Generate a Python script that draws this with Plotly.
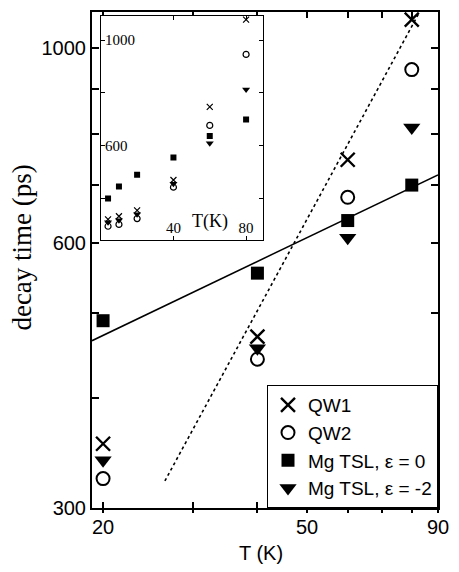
import numpy as np
import plotly.graph_objects as go

# Measured decay times (ps) versus temperature (K)
temps = [4, 10, 20, 40, 60, 80]
qw1 = [321, 333, 355, 470, 747, 1078]
qw2 = [295, 302, 324, 443, 677, 946]
tsl_eps0 = [400, 446, 490, 555, 637, 699]
tsl_eps2 = [310, 318, 340, 456, 609, 813]

# Power-law guide lines (straight on log-log axes)
fit_solid_t = [19.03, 90]
fit_solid_tau = [465, 718]
fit_dot_t = [26.4, 82.5]
fit_dot_tau = [322, 1095]

# Axis ticks
main_xticks = [20, 30, 40, 50, 60, 70, 80, 90]
main_xlabels = ["20", "", "", "50", "", "", "", "90"]
main_yticks = [300, 400, 500, 600, 700, 800, 900, 1000]
main_ylabels = ["300", "", "", "600", "", "", "", "1000"]
inset_xticks = [40, 80]
inset_yticks = [400, 600, 800, 1000]
inset_ylabels = ["", "600", "", "1000"]

SANS = "Liberation Sans, Arial, sans-serif"
SERIF = "Liberation Serif, Times New Roman, serif"

series = [
    ("QW1", qw1, dict(symbol="x-thin-open", size=14, line=dict(width=2.4, color="black"), color="black")),
    ("QW2", qw2, dict(symbol="circle-open", size=13, line=dict(width=2, color="black"), color="black")),
    ("Mg TSL, ε = 0", tsl_eps0, dict(symbol="square", size=13, color="black", line=dict(width=0))),
    ("Mg TSL, ε = -2", tsl_eps2, dict(symbol="triangle-down", size=15, color="black", line=dict(width=0))),
]
inset_sizes = {"x-thin-open": 6, "circle-open": 6, "square": 6, "triangle-down": 7}

fig = go.Figure()

# Guide lines in the main panel
fig.add_trace(go.Scatter(x=fit_solid_t, y=fit_solid_tau, mode="lines",
                         line=dict(color="black", width=1.5), showlegend=False,
                         xaxis="x", yaxis="y"))
fig.add_trace(go.Scatter(x=fit_dot_t, y=fit_dot_tau, mode="lines",
                         line=dict(color="black", width=1.6, dash="dot"), showlegend=False,
                         xaxis="x", yaxis="y"))

# Main panel markers
for name, vals, mk in series:
    fig.add_trace(go.Scatter(x=temps, y=vals, mode="markers", name=name, marker=mk,
                             xaxis="x", yaxis="y"))

# Inset markers
for name, vals, mk in series:
    small = dict(mk)
    small["size"] = inset_sizes[mk["symbol"]]
    if "line" in small and small["line"].get("width", 0) > 0:
        small["line"] = dict(width=1.2, color="black")
    fig.add_trace(go.Scatter(x=temps, y=vals, mode="markers", name=name, marker=small,
                             showlegend=False, xaxis="x2", yaxis="y2"))

# Helper trace for the crossing bottom ticks
fig.add_trace(go.Scatter(x=[], y=[], xaxis="x3", yaxis="y", showlegend=False))

fig.update_layout(
    width=459, height=572,
    margin=dict(l=92, r=13, t=10, b=64),
    paper_bgcolor="white", plot_bgcolor="white",
    showlegend=True,
    xaxis=dict(type="log", range=[np.log10(19.03), np.log10(90)],
               tickvals=main_xticks, ticktext=main_xlabels,
               ticks="inside", ticklen=6, tickwidth=1.5, tickcolor="black",
               showline=True, linecolor="black", linewidth=2, mirror="ticks",
               showgrid=False, zeroline=False,
               tickfont=dict(family=SANS, size=20, color="black"),
               domain=[0, 1]),
    xaxis3=dict(type="log", range=[np.log10(19.03), np.log10(90)],
                overlaying="x", anchor="y", side="bottom",
                tickvals=main_xticks, ticktext=[""] * len(main_xticks),
                ticks="outside", ticklen=4, tickwidth=1.5, tickcolor="black",
                showline=False, showgrid=False, zeroline=False),
    yaxis=dict(type="log", range=[np.log10(300), np.log10(1100)],
               tickvals=main_yticks, ticktext=main_ylabels,
               ticks="inside", ticklen=7, tickwidth=1.5, tickcolor="black",
               showline=True, linecolor="black", linewidth=2, mirror="ticks",
               showgrid=False, zeroline=False,
               tickfont=dict(family=SANS, size=20, color="black"),
               domain=[0, 1]),
    xaxis2=dict(range=[0, 89.5], domain=[0.0254, 0.4952], anchor="y2",
                tickvals=inset_xticks, ticktext=["40", "80"],
                ticks="inside", ticklen=4, tickwidth=1, tickcolor="black",
                ticklabelposition="inside",
                showline=True, linecolor="black", linewidth=1.3, mirror="ticks",
                showgrid=False, zeroline=False,
                tickfont=dict(family=SERIF, size=15, color="black")),
    yaxis2=dict(range=[241.5, 1091.7], domain=[0.5396, 0.992], anchor="x2",
                tickvals=inset_yticks, ticktext=inset_ylabels,
                ticks="inside", ticklen=4, tickwidth=1, tickcolor="black",
                ticklabelposition="inside",
                showline=True, linecolor="black", linewidth=1.3, mirror="ticks",
                showgrid=False, zeroline=False,
                tickfont=dict(family=SERIF, size=15, color="black")),
    legend=dict(x=1, xanchor="right", y=0, yanchor="bottom",
                bgcolor="white", bordercolor="black", borderwidth=1,
                font=dict(family=SANS, size=19, color="black"),
                tracegroupgap=0, itemwidth=30),
    annotations=[
        dict(text="decay time (ps)", textangle=-90, showarrow=False,
             xref="paper", yref="paper", x=0, y=0.525, xanchor="center", yanchor="middle",
             xshift=-70, font=dict(family=SERIF, size=27, color="black")),
        dict(text="T (K)", showarrow=False, xref="paper", yref="paper",
             x=0.489, y=0, xanchor="center", yanchor="middle", yshift=-45,
             font=dict(family=SANS, size=20, color="black")),
        dict(text="T(K)", showarrow=False, xref="x2 domain", yref="y2 domain",
             x=0.673, y=0.086, xanchor="center", yanchor="middle",
             font=dict(family=SERIF, size=18, color="black")),
    ],
)

fig.write_html("out.html")
